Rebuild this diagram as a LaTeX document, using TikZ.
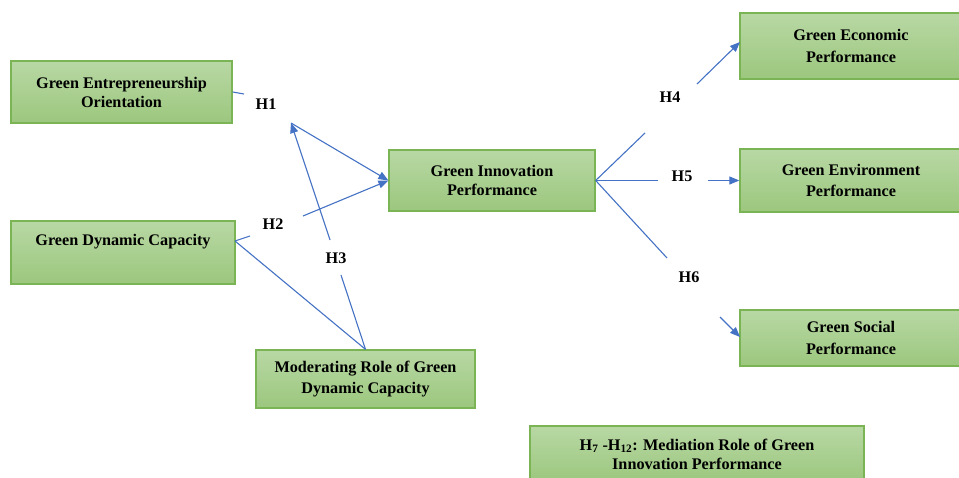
\documentclass[tikz,border=0pt]{standalone}
\usepackage{fontspec}
\setmainfont{Liberation Serif}
\usetikzlibrary{arrows.meta}
\definecolor{linkblue}{RGB}{68,114,196}
\definecolor{boxline}{RGB}{122,180,84}
\definecolor{boxtop}{RGB}{184,216,164}
\definecolor{boxbot}{RGB}{156,199,126}

\begin{document}
\begin{tikzpicture}[x=1pt,y=-1pt,
    box/.style={draw=boxline, line width=1.3pt, top color=boxtop, bottom color=boxbot,
      align=center, inner sep=0pt, font=\bfseries\fontsize{16.2}{19}\selectfont},
    wide/.style={box, font=\bfseries\fontsize{16.2}{21.5}\selectfont},
    hyp/.style={inner sep=1pt, font=\bfseries\fontsize{16.2}{19}\selectfont},
    link/.style={draw=linkblue, line width=1.1pt},
    arr/.style={link, -{Triangle[length=10pt,width=8pt]}}]
  \useasboundingbox (0,0) rectangle (959,478);

  % boxes
  \node [box, minimum width=221pt, minimum height=62pt] (geo) at (121.5,92) {Green Entrepreneurship\\Orientation};
  \node [box, minimum width=224pt, minimum height=63pt] (gdc) at (123,252.5) {Green Dynamic Capacity\\\strut};
  \node [box, minimum width=206pt, minimum height=61pt] (gip) at (492,180.5) {Green Innovation\\Performance};
  \node [wide, minimum width=219pt, minimum height=58pt] (mod) at (365.5,379) {Moderating Role of Green\\Dynamic Capacity};
  \node [wide, minimum width=222pt, minimum height=66pt] (gecp) at (851,46) {Green Economic\\Performance};
  \node [wide, minimum width=222pt, minimum height=63pt] (genvp) at (851,180.5) {Green Environment\\Performance};
  \node [wide, minimum width=222pt, minimum height=56pt] (gsp) at (851,338) {Green Social\\Performance};
  \node [box, minimum width=334pt, minimum height=56pt] (med) at (697,454) {H\textsubscript{7} -H\textsubscript{12}: Mediation Role of Green\\Innovation Performance};

  % hypothesis labels
  \node [hyp] (h1) at (266,104) {H1};
  \node [hyp] (h2) at (273,224) {H2};
  \node [hyp] (h3) at (336,258) {H3};
  \node [hyp] (h4) at (670,97) {H4};
  \node [hyp] (h5) at (682,176) {H5};
  \node [hyp] (h6) at (689,277) {H6};

  % segment ends beside the labels
  \coordinate (h1a) at (244,94);   \coordinate (h1b) at (291,123);
  \coordinate (gdcr) at (235,241); \coordinate (h2a) at (250,236);  \coordinate (h2b) at (303,216);
  \coordinate (h3a) at (341,275);  \coordinate (h3b) at (330,240);
  \coordinate (h4a) at (645,133);  \coordinate (h4b) at (697,84);   \coordinate (gecpl) at (740,42);
  \coordinate (h5a) at (658,180.5);  \coordinate (h5b) at (708,180.5);
  \coordinate (h6a) at (667,258);  \coordinate (h6b) at (720,317);  \coordinate (gspl) at (740,337);

  % connectors
  \draw [link] (geo.east) -- (h1a);
  \draw [arr] (h1b) -- (gip.west);
  \draw [link] (gdcr) -- (h2a);
  \draw [arr] (h2b) -- (gip.west);
  \draw [link] (mod.north) -- (h3a);
  \draw [arr] (h3b) -- (h1b);
  \draw [link] (mod.north) -- (gdcr);

  \draw [link] (gip.east) -- (h4a);
  \draw [arr] (h4b) -- (gecpl);
  \draw [link] (gip.east) -- (h5a);
  \draw [arr] (h5b) -- (genvp.west);
  \draw [link] (gip.east) -- (h6a);
  \draw [arr] (h6b) -- (gspl);
\end{tikzpicture}
\end{document}
